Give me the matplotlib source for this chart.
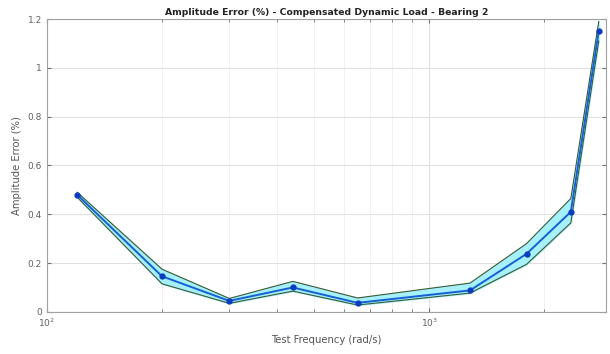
import numpy as np
import matplotlib.pyplot as plt
from matplotlib.ticker import FuncFormatter, LogLocator

freq = [120, 200, 300, 440, 650, 1280, 1800, 2350, 2780]
err = [0.48, 0.146, 0.045, 0.10, 0.037, 0.088, 0.238, 0.41, 1.15]
upper = [0.49, 0.175, 0.055, 0.125, 0.057, 0.118, 0.28, 0.465, 1.19]
lower = [0.47, 0.115, 0.035, 0.085, 0.028, 0.077, 0.195, 0.365, 1.11]

fig = plt.figure(figsize=(6.1, 3.54), dpi=100)
ax = fig.add_axes([0.077, 0.119, 0.916, 0.827])

ax.fill_between(freq, lower, upper, color='#a6f0fb', zorder=2)
ax.plot(freq, upper, color='#3a5a35', lw=0.8, zorder=3)
ax.plot(freq, lower, color='#3a5a35', lw=0.8, zorder=3)
ax.plot(freq, err, color='#1560d2', lw=1.4, zorder=4)
ax.plot(freq, err, 'o', color='#0b3bbf', ms=3.5, zorder=5)

ax.set_xscale('log')
ax.set_xlim(100, 2900)
ax.set_ylim(0, 1.2)
ax.set_yticks(np.arange(0, 1.21, 0.2))
ax.yaxis.set_major_formatter(FuncFormatter(lambda v, p: '%g' % round(v, 2)))
ax.xaxis.set_minor_locator(LogLocator(base=10, subs=np.arange(2, 10)))
ax.xaxis.set_minor_formatter(FuncFormatter(lambda v, p: ''))

ax.grid(True, which='major', color='#e0e0e0', lw=0.8)
ax.grid(True, which='minor', axis='x', color='#efefef', lw=0.6)
ax.set_axisbelow(True)

ax.tick_params(which='both', direction='in', top=True, right=True,
               labelsize=6.5, colors='#707070', labelcolor='#606060')
ax.tick_params(which='major', length=3)
ax.tick_params(which='minor', length=2)
for s in ax.spines.values():
    s.set_color('#a0a0a0')

ax.set_xlabel('Test Frequency (rad/s)', fontsize=7.2, color='#555555')
ax.set_ylabel('Amplitude Error (%)', fontsize=7.2, color='#555555')
ax.set_title('Amplitude Error (%) - Compensated Dynamic Load - Bearing 2',
             fontsize=6.7, fontweight='bold', color='#222222', pad=3)

fig.savefig('out.png', dpi=100)
